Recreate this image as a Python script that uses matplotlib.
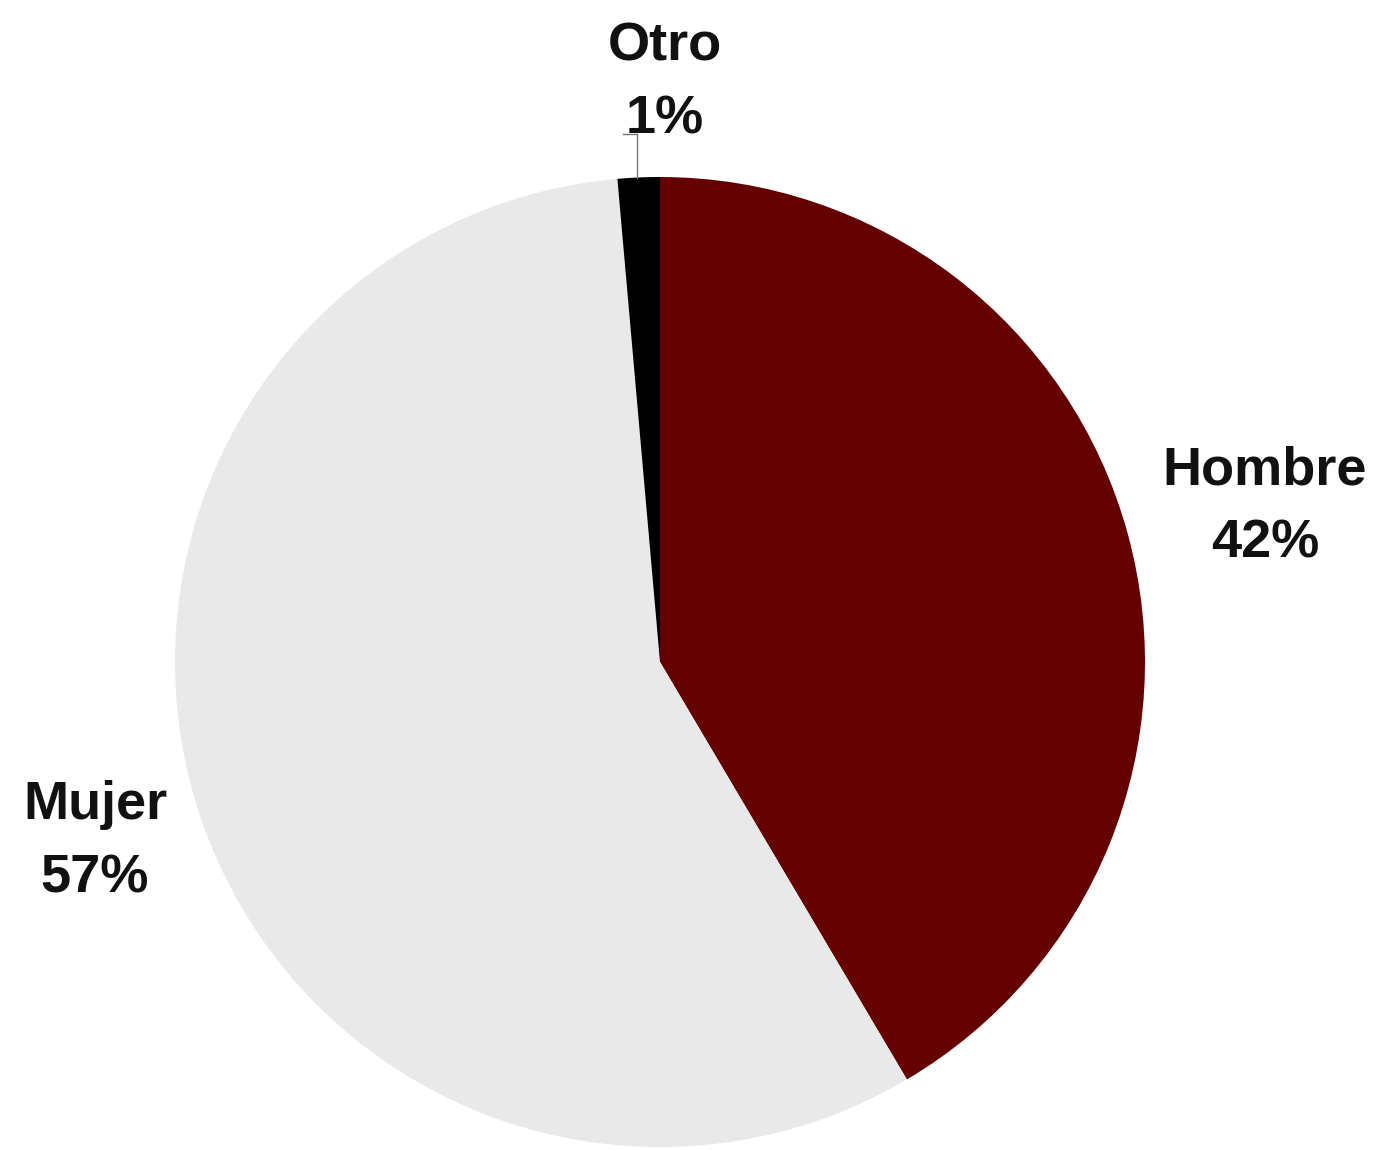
import matplotlib

matplotlib.use("Agg")
import matplotlib.pyplot as plt  # noqa: E402

labels = ["Hombre", "Mujer", "Otro"]
shares = [41.5, 57.1, 1.4]
colors = ["#650000", "#e9e9e9", "#000000"]

W, H = 1381, 1150
fig = plt.figure(figsize=(W / 100, H / 100), dpi=100)
ax = fig.add_axes([0, 0, 1, 1])

cx, cy, r = 660, H - 662, 485
ax.pie(shares, colors=colors, startangle=90, counterclock=False,
       center=(cx, cy), radius=r, frame=True,
       wedgeprops=dict(linewidth=0))
ax.set_xlim(0, W)
ax.set_ylim(0, H)
ax.set_aspect("equal")
ax.axis("off")

font = dict(family="Liberation Sans", fontweight="bold", fontsize=39,
            ha="center", va="center", linespacing=1.6, color="#111111")
pos = {"Hombre": (1265, H - 507), "Mujer": (95, H - 842), "Otro": (665, H - 83)}
for name, val in zip(labels, shares):
    x, y = pos[name]
    ax.text(x, y, f"{name}\n{round(val):.0f}%", **font)

# leader line for the small slice
ax.plot([623, 637, 637], [H - 134, H - 134, H - 178], color="#777777", lw=1)

fig.savefig("out.png", dpi=100, facecolor="white")
